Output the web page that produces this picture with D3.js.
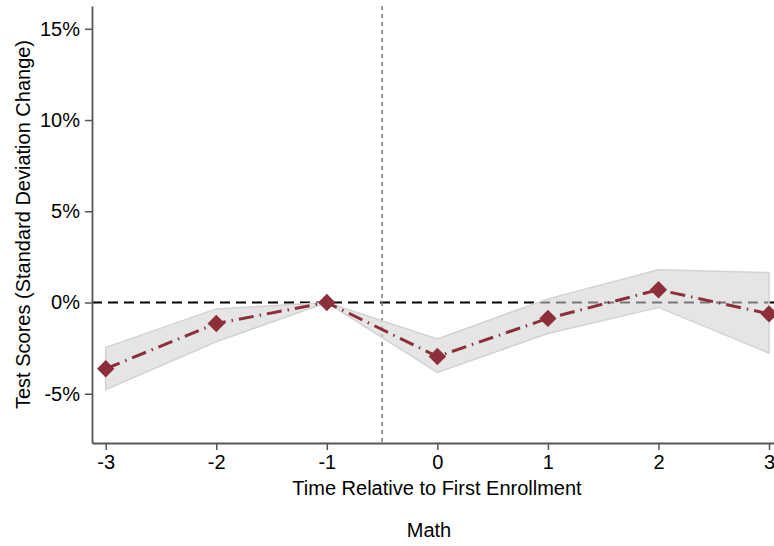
<!DOCTYPE html>
<html>
<head>
<meta charset="utf-8">
<script src="https://cdn.jsdelivr.net/npm/d3@7.9.0/dist/d3.min.js"></script>
<style>
  body { margin: 0; background: #fff; }
  svg { display: block; font-family: "Liberation Sans", Arial, sans-serif; }
</style>
</head>
<body>
<div id="chart"></div>
<script>
// event-time values (percent of SD)
const periods = [-3, -2, -1, 0, 1, 2, 3];
const estimates = [-3.63, -1.15, 0, -2.96, -0.87, 0.7, -0.62];
const ciUpper = [-2.46, -0.35, 0, -2.0, 0.2, 1.79, 1.64];
const ciLower = [-4.78, -2.15, 0, -3.83, -1.7, -0.27, -2.77];
const xTicks = [-3, -2, -1, 0, 1, 2, 3];
const yTicks = [-5, 0, 5, 10, 15];

const width = 774;
const height = 546;
const margin = { top: 6, right: 0, bottom: 103, left: 92 };
const fontSize = 20;

const x = d3.scaleLinear().domain([-3.124, 3.045]).range([margin.left, width - margin.right]);
const y = d3.scaleLinear().domain([-7.7, 16.25]).range([height - margin.bottom, margin.top]);

const svg = d3.select('#chart').append('svg')
  .attr('width', width)
  .attr('height', height);

const red = '#8c2f3a';

// reference lines
svg.append('line')
  .attr('x1', margin.left).attr('x2', width)
  .attr('y1', y(0)).attr('y2', y(0))
  .attr('stroke', '#000').attr('stroke-width', 2)
  .attr('stroke-dasharray', '10,6');

svg.append('line')
  .attr('x1', x(-0.5)).attr('x2', x(-0.5))
  .attr('y1', margin.top).attr('y2', height - margin.bottom)
  .attr('stroke', '#777').attr('stroke-width', 1.5)
  .attr('stroke-dasharray', '4,4');

// confidence band
const rows = periods.map((p, i) => ({ p, est: estimates[i], hi: ciUpper[i], lo: ciLower[i] }));

const area = d3.area()
  .x((d) => x(d.p))
  .y0((d) => y(d.lo))
  .y1((d) => y(d.hi));

svg.append('path')
  .datum(rows)
  .attr('d', (d) => area(d) + 'Z')
  .attr('fill', '#d1d1d1')
  .attr('fill-opacity', 0.57)
  .attr('stroke', '#d3d3d3')
  .attr('stroke-width', 1.5);

// estimate line
const line = d3.line().x((d) => x(d.p)).y((d) => y(d.est));

svg.append('path')
  .datum(rows)
  .attr('d', line)
  .attr('fill', 'none')
  .attr('stroke', red)
  .attr('stroke-width', 3)
  .attr('stroke-dasharray', '15,6,1.5,6');

svg.append('g')
  .selectAll('path')
  .data(rows)
  .join('path')
  .attr('d', d3.symbol().type(d3.symbolSquare).size(150))
  .attr('transform', (d) => `translate(${x(d.p)},${y(d.est)}) rotate(45)`)
  .attr('fill', red);

// axes
const axisColor = '#555';

const yAxis = svg.append('g')
  .attr('transform', `translate(${margin.left},0)`)
  .call(d3.axisLeft(y).tickValues(yTicks).tickFormat((d) => d + '%').tickSize(7).tickPadding(5).tickSizeOuter(0));
yAxis.select('.domain').attr('stroke', axisColor).attr('stroke-width', 1.8);
yAxis.selectAll('.tick line').attr('stroke', axisColor).attr('stroke-width', 1.5);
yAxis.selectAll('.tick text').attr('font-size', fontSize).attr('fill', '#000')
  .attr('font-family', '"Liberation Sans", Arial, sans-serif');

const xAxis = svg.append('g')
  .attr('transform', `translate(0,${height - margin.bottom})`)
  .call(d3.axisBottom(x).tickValues(xTicks).tickFormat((d) => String(d)).tickSize(7).tickPadding(5).tickSizeOuter(0));
xAxis.select('.domain').attr('stroke', axisColor).attr('stroke-width', 1.8);
xAxis.selectAll('.tick line').attr('stroke', axisColor).attr('stroke-width', 1.5);
xAxis.selectAll('.tick text').attr('font-size', fontSize).attr('fill', '#000')
  .attr('font-family', '"Liberation Sans", Arial, sans-serif');

// titles
svg.append('text')
  .attr('transform', `translate(23,${(margin.top + height - margin.bottom) / 2}) rotate(-90)`)
  .attr('text-anchor', 'middle')
  .attr('dy', '0.35em')
  .attr('font-size', fontSize)
  .text('Test Scores (Standard Deviation Change)');

svg.append('text')
  .attr('x', 437).attr('y', 495)
  .attr('text-anchor', 'middle')
  .attr('font-size', fontSize)
  .text('Time Relative to First Enrollment');

svg.append('text')
  .attr('x', 429).attr('y', 537)
  .attr('text-anchor', 'middle')
  .attr('font-size', fontSize)
  .text('Math');
</script>
</body>
</html>
